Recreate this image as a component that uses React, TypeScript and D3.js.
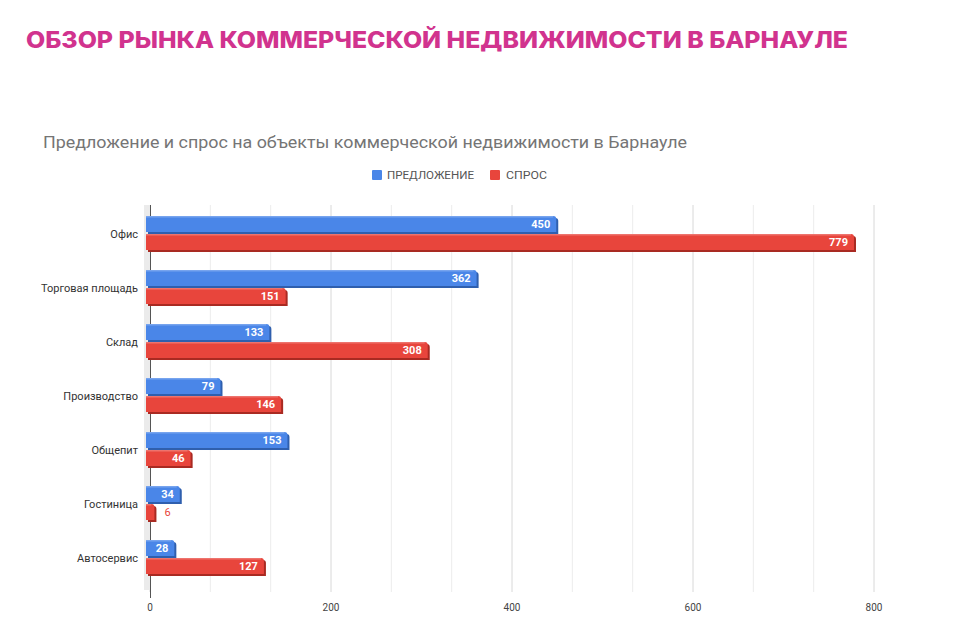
import React from "react";
import * as d3 from "d3";

const categories = ["Офис", "Торговая площадь", "Склад", "Производство", "Общепит", "Гостиница", "Автосервис"];
const supply = [450, 362, 133, 79, 153, 34, 28];
const demand = [779, 151, 308, 146, 46, 6, 127];
const seriesNames = ["ПРЕДЛОЖЕНИЕ", "СПРОС"];
const tickValues = [0, 200, 400, 600, 800];
const title = "ОБЗОР РЫНКА КОММЕРЧЕСКОЙ НЕДВИЖИМОСТИ В БАРНАУЛЕ";
const subtitle = "Предложение и спрос на объекты коммерческой недвижимости в Барнауле";

const W = 960, H = 634;
const colors = ["#4a86e8", "#e8453c"];
const shades = ["#2f5fae", "#a92a22"];

export default function App() {
  const x = d3.scaleLinear().domain([0, 800]).range([150, 874]);
  const y = d3.scaleBand<string>().domain(categories).range([207, 585]);
  const minor = d3.range(0, 801, 200 / 3);
  const barH = 16;

  const bars: any[] = [];
  categories.forEach((c, i) => {
    const cy = (y(c) as number) + y.bandwidth() / 2;
    [supply[i], demand[i]].forEach((v, s) => {
      const top = s === 0 ? cy - 18 : cy;
      const x0 = x(0) - 4, x1 = x(v) - 1;
      const w = x1 - x0;
      const r = 3;
      const pathFor = (ox: number, oy: number) =>
        `M${x0 + ox},${top + oy} H${x1 + ox - r} Q${x1 + ox},${top + oy} ${x1 + ox},${top + oy + r} V${top + oy + barH} H${x0 + ox} Z`;
      bars.push(
        <g key={c + s}>
          <path d={pathFor(2, 2)} fill={shades[s]} />
          <path d={pathFor(0, 0)} fill={colors[s]} />
          <rect x={x0} y={top} width={w - r} height={1.5} fill="#ffffff" opacity={0.25} />
          {w > 24 ? (
            <text x={x1 - 6} y={top + barH / 2 + 4} textAnchor="end" fill="#fff" fontSize={11} fontWeight="bold" fontFamily="Roboto, Arial, sans-serif">{v}</text>
          ) : (
            <text x={x1 + 10} y={top + barH / 2 + 4} textAnchor="start" fill={colors[s]} fontSize={11} fontFamily="Roboto, Arial, sans-serif">{v}</text>
          )}
        </g>
      );
    });
  });

  return (
    <svg width={W} height={H} style={{ display: "block", position: "absolute", left: 0, top: 0, background: "#fff" }}>
      <rect width={W} height={H} fill="#fff" />
      <text x={26} y={48} fontSize={23} fontWeight={800} fill="#d1338e" fontFamily="Inter, 'Open Sans', Roboto, Arial, sans-serif" textLength={822} lengthAdjust="spacingAndGlyphs">{title}</text>
      <text x={43} y={148} fontSize={17} fill="#757575" fontFamily="Roboto, Arial, sans-serif" textLength={644} lengthAdjust="spacingAndGlyphs">{subtitle}</text>
      {/* legend */}
      <rect x={372} y={170} width={10} height={10} fill={colors[0]} rx={1} />
      <text x={387} y={179} fontSize={10.5} fill="#555" fontFamily="Roboto, Arial, sans-serif" textLength={87} lengthAdjust="spacingAndGlyphs">{seriesNames[0]}</text>
      <rect x={490} y={170} width={10} height={10} fill={colors[1]} rx={1} />
      <text x={506} y={179} fontSize={10.5} fill="#555" fontFamily="Roboto, Arial, sans-serif" textLength={41} lengthAdjust="spacingAndGlyphs">{seriesNames[1]}</text>
      {/* gridlines */}
      {minor.map((v, i) => (
        <line key={"m" + i} x1={x(v)} x2={x(v)} y1={205} y2={592} stroke={i % 3 === 0 ? "#d8d8d8" : "#ececec"} strokeWidth={1} />
      ))}
      {/* 3D wall */}
      <rect x={144} y={205} width={6} height={385} fill="#ebebeb" />
      <line x1={150.5} x2={150.5} y1={205} y2={598} stroke="#555" strokeWidth={1} />
      {bars}
      {categories.map((c) => (
        <text key={c} x={138} y={(y(c) as number) + y.bandwidth() / 2 + 4} textAnchor="end" fontSize={11} fill="#333" fontFamily="Roboto, Arial, sans-serif">{c}</text>
      ))}
      {tickValues.map((t) => (
        <text key={t} x={x(t)} y={611} textAnchor="middle" fontSize={10} fill="#444" fontFamily="Roboto, Arial, sans-serif">{t}</text>
      ))}
    </svg>
  );
}
